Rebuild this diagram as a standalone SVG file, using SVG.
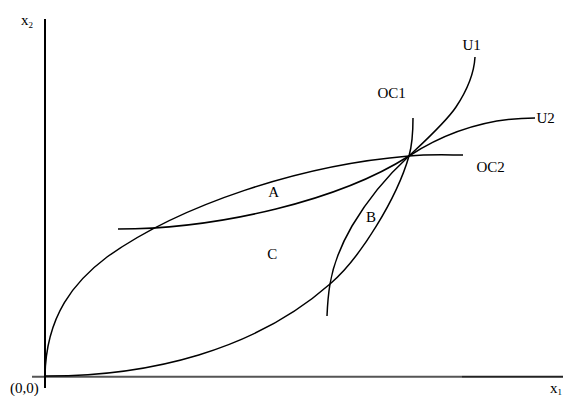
<svg xmlns="http://www.w3.org/2000/svg" width="564" height="396" viewBox="0 0 564 396">
<style>
.curve{fill:none;stroke:#000;stroke-width:1.5;stroke-linecap:butt}
.axis{fill:none;stroke-width:2}
text{font-family:"Liberation Serif","Times New Roman",serif;font-size:15px;fill:#000}
.sub{font-size:9px}
</style>
<rect width="564" height="396" fill="#fff"/>
<g id="axes">
<line class="axis" x1="32" y1="376.7" x2="462" y2="376.7" stroke="#555"/>
<line class="axis" x1="462" y1="376.7" x2="563" y2="376.7" stroke="#222"/>
<line class="axis" x1="45" y1="19" x2="45" y2="388" stroke="#000"/>
<text x="21" y="25">x<tspan class="sub" dy="3">2</tspan></text>
<text x="10" y="393">(0,0)</text>
<text x="550" y="393">x<tspan class="sub" dy="2">1</tspan></text>
</g>
<g id="connectors">
<path id="OC2-curve" class="curve" d="M45,376 C46,315 75,281 107,257 C180,205 300,165 409,156 C430,154 450,155 463,155"/>
<path id="U2-curve" class="curve" d="M118,229 C220,229 340,200 409,156 C440,136 480,118 535,118"/>
<path id="OC1-curve" class="curve" d="M45,376 C150,376.5 255,350 330,284 C360,258.5 397,198 409,156 C412,145.5 413,128 413,118"/>
<path id="U1-curve" class="curve" d="M327,316 C327.5,304 328.5,293 330,284 C333,266 341,245 352,226 C365,204 385,178 409,156 C425,141 446,122 456,107 C466,92 474,75 475,57"/>
</g>
<g id="U1"><text x="462.5" y="50">U1</text></g>
<g id="OC1"><text x="377.5" y="98">OC1</text></g>
<g id="U2"><text x="536.5" y="123">U2</text></g>
<g id="OC2"><text x="476.5" y="171.5">OC2</text></g>
<g id="A"><text x="268.3" y="196.7">A</text></g>
<g id="B"><text x="366" y="221.7">B</text></g>
<g id="C"><text x="267.3" y="259">C</text></g>
</svg>
